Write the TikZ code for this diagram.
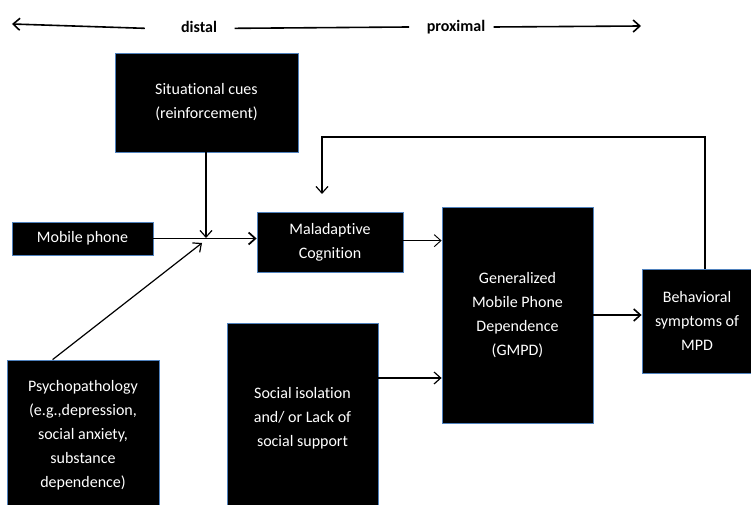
\documentclass[tikz,border=0pt]{standalone}
\usepackage{fontspec}
\setmainfont{Carlito}[Ligatures=NoCommon]
\usepackage{tikz}
\definecolor{edgeblue}{RGB}{79,129,189}
\tikzstyle{blk} = [rectangle, fill=black, draw=edgeblue, line width=0.6pt, text=white, align=center, inner sep=0pt, font=\fontsize{12}{18}\selectfont]
\tikzstyle{lbl} = [font=\fontsize{12}{14}\selectfont\bfseries, inner sep=0pt]
\tikzstyle{arrow} = [->,>={Straight Barb[length=5pt,width=9pt]}, line width=0.9pt]
\usetikzlibrary{arrows.meta, positioning, calc}

\begin{document}
\begin{tikzpicture}[x=0.75pt, y=-0.75pt]
          \useasboundingbox (0,0) rectangle (751,505);
          % distal - proximal scale
          \node[lbl] (distal) at (199,27) {distal};
          \node[lbl] (proximal) at (456,27) {proximal};
          \coordinate (lend) at (12,24);
          \coordinate (rend) at (641,26);
          \draw[arrow, line width=1.2pt] ([xshift=-27pt,yshift=-1pt]distal.west) -- (lend);
          \draw[line width=1.2pt] ([xshift=13pt,yshift=-1pt]distal.east) -- ([xshift=-13pt]proximal.west);
          \draw[arrow, line width=1.2pt] ([xshift=6pt]proximal.east) -- (rend);

          % boxes
          \node[blk, minimum width=137.25pt, minimum height=74.25pt] (cues) at (206.5,102.5) {Situational cues\\(reinforcement)};
          \node[blk, minimum width=105.75pt, minimum height=24.75pt] (phone) at (82.5,238.5) {Mobile phone};
          \node[blk, minimum width=109.5pt, minimum height=45pt] (cog) at (330,242) {Maladaptive\\Cognition};
          \node[blk, minimum width=113.25pt, minimum height=162pt] (gmpd) at (517.5,315) {Generalized\\Mobile Phone\\Dependence\\(GMPD)};
          \node[blk, minimum width=82.5pt, minimum height=78pt] (behav) at (697,321) {Behavioral\\symptoms of\\MPD};
          \node[blk, minimum width=114pt, minimum height=112.5pt] (psych) at (83,435) {Psychopathology\\(e.g.,depression,\\social anxiety,\\substance\\dependence)};
          \node[blk, minimum width=113.25pt, minimum height=142.5pt] (social) at (302.5,418) {Social isolation\\and/ or Lack of\\social support};

          % connectors
          \coordinate (jn) at (206,238);
          \coordinate (pj) at (202,243);
          \coordinate (sj) at ($(social.east)+(0,-40)$);
          \coordinate (fbtop) at (322,137);
          \coordinate (fbend) at (322,194);
          \draw[arrow] (cues.south -| jn) -- (jn);
          \draw[arrow, line width=1.3pt] (phone.east) -- (phone.east -| cog.west);
          \draw[arrow] ($(psych.north west)+(46,0)$) -- (pj);
          \draw[arrow, line width=0.7pt] ([yshift=1pt]cog.east) -- ([yshift=1pt]cog.east -| gmpd.west);
          \draw[arrow] (sj) -- (sj -| gmpd.west);
          \draw[arrow, line width=1.2pt] (gmpd.east) -- (gmpd.east -| behav.west);
          \draw[arrow] ($(behav.north)+(8,0)$) |- (fbtop) -- (fbend);
        \end{tikzpicture}
\end{document}
